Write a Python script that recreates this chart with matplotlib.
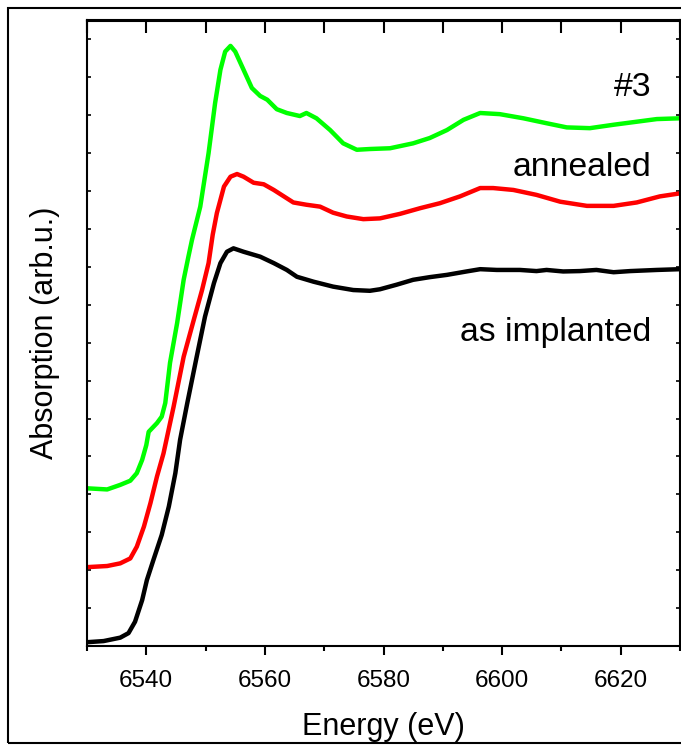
import matplotlib.pyplot as plt
from matplotlib.patches import Rectangle
from matplotlib.ticker import MultipleLocator

plt.rcParams['font.family'] = ['Liberation Sans', 'DejaVu Sans']

# XANES spectra (y in arbitrary units, one unit per y tick)
e_green = [6530.0, 6533.4, 6535.6, 6537.3, 6538.4, 6539.3, 6540.0, 6540.4, 6541.8, 6542.6,
           6543.2, 6544.0, 6545.2, 6546.3, 6547.1, 6547.7, 6549.1, 6550.5, 6551.6, 6552.5,
           6553.3, 6554.2, 6555.0, 6556.4, 6557.8, 6559.2, 6560.4, 6562.0, 6563.7, 6565.9,
           6567.0, 6568.7, 6571.0, 6573.2, 6575.5, 6577.7, 6581.1, 6585.0, 6587.8, 6590.7,
           6593.5, 6596.3, 6599.6, 6603.6, 6607.5, 6610.9, 6614.8, 6618.8, 6622.7, 6626.1,
           6630.0]
a_green = [4.16, 4.13, 4.25, 4.36, 4.56, 4.91, 5.30, 5.65, 5.88, 6.05,
           6.41, 7.47, 8.52, 9.66, 10.27, 10.71, 11.59, 13.00, 14.32, 15.20,
           15.68, 15.83, 15.68, 15.20, 14.72, 14.51, 14.41, 14.16, 14.06, 13.98,
           14.06, 13.92, 13.61, 13.26, 13.09, 13.11, 13.13, 13.26, 13.40, 13.61,
           13.88, 14.06, 14.03, 13.92, 13.79, 13.68, 13.66, 13.75, 13.83, 13.90,
           13.92]

e_red = [6530.0, 6533.4, 6535.6, 6537.3, 6538.4, 6539.6, 6540.7, 6541.8, 6542.9, 6544.6,
         6546.3, 6548.0, 6549.4, 6550.5, 6551.2, 6551.9, 6553.1, 6554.2, 6555.3, 6556.4,
         6558.1, 6559.8, 6561.5, 6563.7, 6564.8, 6567.0, 6569.3, 6571.5, 6573.8, 6576.6,
         6579.4, 6582.8, 6586.2, 6589.5, 6592.9, 6596.3, 6598.5, 6601.9, 6605.8, 6609.8,
         6614.3, 6618.8, 6622.7, 6626.6, 6630.0]
a_red = [2.08, 2.11, 2.18, 2.31, 2.62, 3.15, 3.77, 4.47, 5.08, 6.31,
         7.63, 8.60, 9.39, 10.10, 10.85, 11.42, 12.12, 12.38, 12.45, 12.38,
         12.22, 12.18, 12.03, 11.81, 11.70, 11.64, 11.59, 11.43, 11.33, 11.26,
         11.28, 11.40, 11.55, 11.68, 11.86, 12.08, 12.08, 12.03, 11.90, 11.72,
         11.61, 11.61, 11.70, 11.86, 11.94]

e_black = [6530.0, 6532.8, 6535.6, 6537.0, 6538.1, 6539.3, 6540.1, 6541.2, 6542.6, 6543.8,
           6544.9, 6545.7, 6546.9, 6548.5, 6549.9, 6551.4, 6552.5, 6553.6, 6554.7, 6556.4,
           6559.2, 6561.5, 6563.7, 6565.4, 6568.2, 6571.5, 6574.9, 6577.7, 6579.4, 6582.2,
           6585.0, 6587.8, 6590.7, 6594.0, 6596.3, 6599.1, 6603.0, 6605.8, 6607.5, 6610.3,
           6613.1, 6615.9, 6618.8, 6621.6, 6626.1, 6630.0]
a_black = [0.10, 0.13, 0.22, 0.34, 0.64, 1.21, 1.74, 2.27, 2.93, 3.68,
           4.56, 5.44, 6.40, 7.63, 8.69, 9.57, 10.10, 10.40, 10.49, 10.40,
           10.27, 10.10, 9.92, 9.74, 9.61, 9.48, 9.39, 9.37, 9.41, 9.53,
           9.66, 9.73, 9.79, 9.88, 9.94, 9.92, 9.92, 9.89, 9.92, 9.88,
           9.89, 9.92, 9.86, 9.89, 9.92, 9.94]

labels = ['#3', 'annealed', 'as implanted']
label_y = [14.72, 12.61, 8.26]

fig = plt.figure(figsize=(6.81, 7.45), dpi=100)
ax = fig.add_axes([87 / 681, 99 / 745, 593 / 681, 625.5 / 745])

ax.plot(e_green, a_green, color='#00ff00', lw=3.2, solid_joinstyle='round')
ax.plot(e_red, a_red, color='#ff0000', lw=3.2, solid_joinstyle='round')
ax.plot(e_black, a_black, color='black', lw=3.2, solid_joinstyle='round')

for txt, yy in zip(labels, label_y):
    ax.text(6625.2, yy, txt, ha='right', va='center', fontsize=24.3)

ax.set_xlim(6530, 6630)
ax.set_ylim(0, 16.5)
ax.xaxis.set_major_locator(MultipleLocator(20))
ax.xaxis.set_minor_locator(MultipleLocator(10))
ax.yaxis.set_major_locator(MultipleLocator(1))
ax.set_yticklabels([])
ax.tick_params(axis='x', which='major', direction='out', length=6.5, width=1.5,
               labelsize=17.5, pad=11)
ax.tick_params(axis='x', which='minor', direction='out', length=3.5, width=1.5)
ax.tick_params(axis='y', which='major', direction='in', length=3, width=1.2,
               left=True, right=True)

top = ax.secondary_xaxis('top')
top.xaxis.set_major_locator(MultipleLocator(10))
top.tick_params(direction='in', length=9, width=1.5, labeltop=False)

for s in ax.spines.values():
    s.set_linewidth(1.5)
top.spines['top'].set_linewidth(1.5)

ax.set_xlabel('Energy (eV)', fontsize=22, labelpad=14)
ax.set_ylabel('Absorption (arb.u.)', fontsize=22, labelpad=16)

# outer frame of the figure
fig.add_artist(Rectangle((8 / 681, 2 / 745), 1.2, 735 / 745, transform=fig.transFigure,
                         fill=False, lw=1.5, edgecolor='black', clip_on=False))

fig.savefig('out.png', dpi=100)
